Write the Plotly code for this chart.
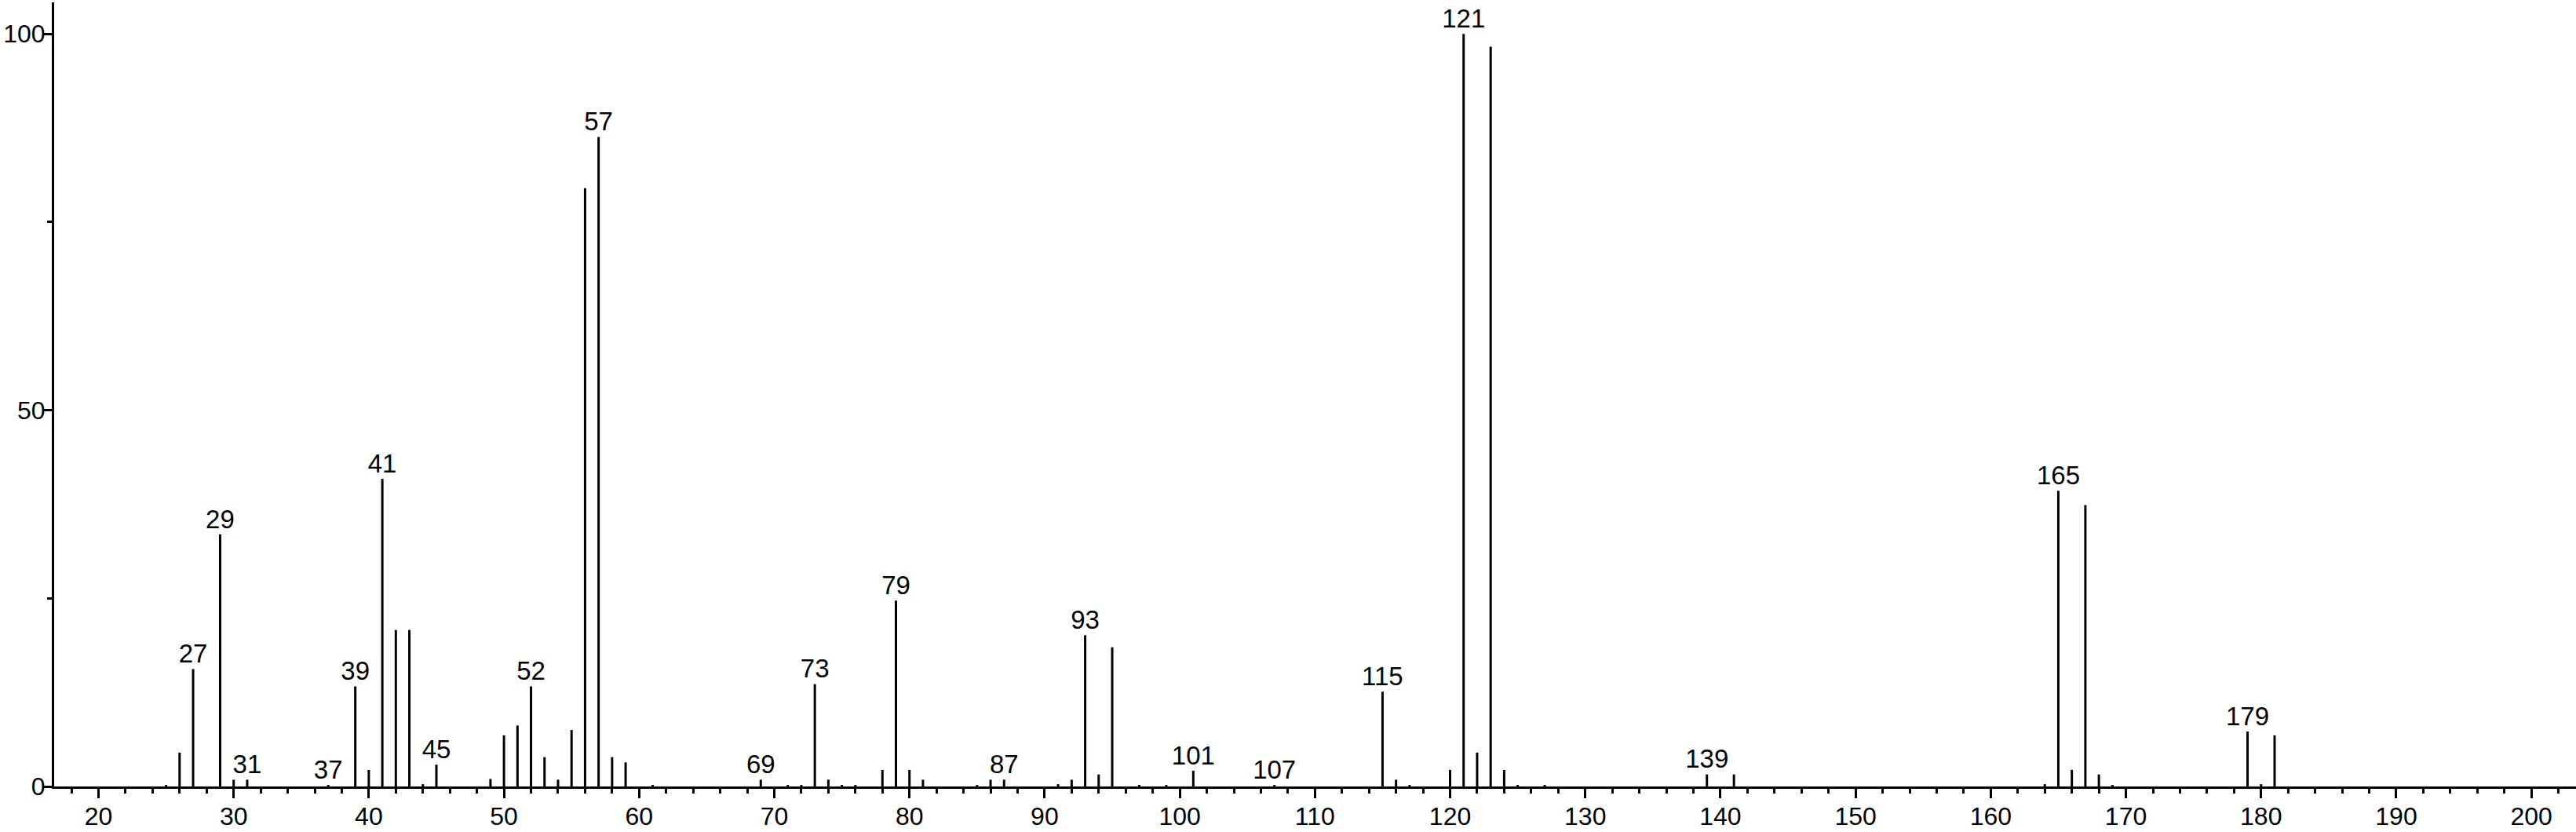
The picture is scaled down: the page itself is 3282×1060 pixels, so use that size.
import plotly.graph_objects as go

# m/z values and relative intensities
mz = [25, 26, 27, 29, 30, 31, 37, 39, 40, 41, 42, 43, 44, 45, 49, 50, 51, 52, 53, 54,
      55, 56, 57, 58, 59, 61, 69, 71, 72, 73, 74, 75, 76, 78, 79, 80, 81, 85, 86, 87,
      91, 92, 93, 94, 95, 97, 99, 101, 107, 115, 116, 117, 120, 121, 122, 123, 124,
      125, 127, 139, 141, 164, 165, 166, 167, 168, 169, 179, 180, 181]
intensity = [0.2, 4.5, 15.6, 33.5, 0.9, 0.9, 0.2, 13.3, 2.2, 40.9, 20.8, 20.8, 0.3, 2.9,
             1.0, 6.8, 8.1, 13.3, 3.9, 0.9, 7.5, 79.5, 86.3, 3.9, 3.2, 0.2, 0.9, 0.2, 0.2,
             13.6, 0.9, 0.2, 0.2, 2.2, 24.7, 2.2, 0.9, 0.2, 0.9, 0.9, 0.3, 0.9, 20.1, 1.6,
             18.5, 0.2, 0.2, 2.1, 0.2, 12.6, 0.9, 0.2, 2.2, 100.0, 4.5, 98.3, 2.2, 0.2, 0.2,
             1.6, 1.6, 0.3, 39.3, 2.2, 37.4, 1.6, 0.2, 7.3, 0.3, 6.8]

labeled_mz = [27, 29, 31, 37, 39, 41, 45, 52, 57, 69, 73, 79, 87, 93, 101, 107, 115,
              121, 139, 165, 179]

x_ticks = list(range(20, 201, 10))
y_ticks = [0, 50, 100]
y_minor = [25, 75]

lookup = dict(zip(mz, intensity))

# stems
sx, sy = [], []
for m, v in zip(mz, intensity):
    sx += [m, m, None]
    sy += [0, v, None]

FONT = "Liberation Sans, Arial, sans-serif"

fig = go.Figure()
fig.add_trace(go.Scatter(x=sx, y=sy, mode="lines",
                         line=dict(color="black", width=3),
                         hoverinfo="skip", showlegend=False))
fig.add_trace(go.Scatter(x=labeled_mz, y=[lookup[m] for m in labeled_mz],
                         mode="text", text=[str(m) for m in labeled_mz],
                         textposition="top center",
                         textfont=dict(family=FONT, size=33, color="black"),
                         showlegend=False))

fig.update_layout(
    width=3282, height=1060,
    margin=dict(l=69, r=0, t=3, b=58, autoexpand=False),
    paper_bgcolor="white", plot_bgcolor="white",
    font=dict(family=FONT, size=32, color="black"),
)
fig.update_xaxes(range=[16.72, 203.3], showgrid=False, zeroline=False, automargin=False,
                 showline=True, linewidth=3, linecolor="black",
                 ticks="outside", ticklen=12, tickwidth=3, tickcolor="black",
                 tickvals=x_ticks, ticktext=[str(t) for t in x_ticks],
                 tickfont=dict(family=FONT, size=32), ticklabelstandoff=-4,
                 minor=dict(dtick=2, tick0=0, ticks="outside", ticklen=6,
                            tickwidth=3, tickcolor="black", showgrid=False))
fig.update_yaxes(range=[0, 104.2], showgrid=False, zeroline=False, automargin=False,
                 showline=True, linewidth=3, linecolor="black",
                 ticks="outside", ticklen=12, tickwidth=3, tickcolor="black",
                 tickvals=y_ticks, ticktext=[str(t) for t in y_ticks],
                 tickfont=dict(family=FONT, size=32), ticklabelstandoff=-10,
                 minor=dict(tickvals=y_minor, ticks="outside", ticklen=6,
                            tickwidth=3, tickcolor="black", showgrid=False))

fig.write_html("out.html", config={"displayModeBar": False},
               post_script="document.body.style.margin='0';document.body.style.overflow='hidden';")
